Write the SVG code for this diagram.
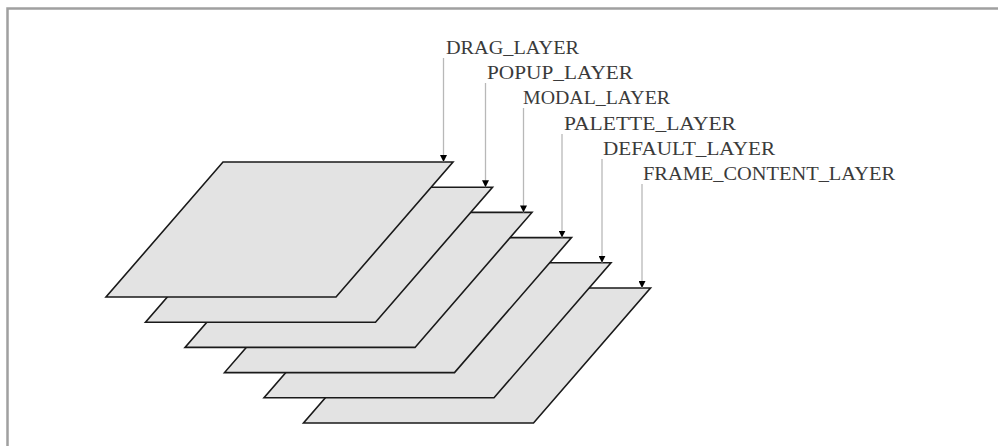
<svg xmlns="http://www.w3.org/2000/svg" width="998" height="446" viewBox="0 0 998 446">
<style>
.layer{fill:#e3e3e3;stroke:#1a1a1a;stroke-width:1.6;stroke-linejoin:miter}
.lbl{font-family:"Liberation Serif","Times New Roman",serif;font-size:18.5px;fill:#3a3a3a}
.lead{stroke:#b8b8b8;stroke-width:1.3;fill:none}
</style>
<defs>
<marker id="ah" viewBox="0 0 10 10" refX="10" refY="5" markerWidth="7" markerHeight="7" markerUnits="userSpaceOnUse" orient="auto">
<path d="M0,0 L10,5 L0,10 Z" fill="#000"/>
</marker>
</defs>
<rect x="0" y="0" width="998" height="446" fill="#fff"/>
<path d="M7.5,446 V8.5 H998" fill="none" stroke="#a0a0a0" stroke-width="2.5"/>
<g id="frame_content_layer"><polygon class="layer" points="420.5,288 650.5,288 533.5,423 303.5,423"/></g>
<g id="default_layer"><polygon class="layer" points="381,262.8 611,262.8 494,397.8 264,397.8"/></g>
<g id="palette_layer"><polygon class="layer" points="341.5,237.6 571.5,237.6 454.5,372.6 224.5,372.6"/></g>
<g id="modal_layer"><polygon class="layer" points="302,212.4 532,212.4 415,347.4 185,347.4"/></g>
<g id="popup_layer"><polygon class="layer" points="262.5,187.2 492.5,187.2 375.5,322.2 145.5,322.2"/></g>
<g id="drag_layer"><polygon class="layer" points="223,162 453,162 336,297 106,297"/></g>
<g id="labels">
<text class="lbl" x="446" y="54" textLength="133" lengthAdjust="spacingAndGlyphs">DRAG_LAYER</text>
<text class="lbl" x="487" y="79" textLength="146" lengthAdjust="spacingAndGlyphs">POPUP_LAYER</text>
<text class="lbl" x="523" y="104" textLength="147" lengthAdjust="spacingAndGlyphs">MODAL_LAYER</text>
<text class="lbl" x="564" y="130" textLength="172" lengthAdjust="spacingAndGlyphs">PALETTE_LAYER</text>
<text class="lbl" x="603" y="155" textLength="172" lengthAdjust="spacingAndGlyphs">DEFAULT_LAYER</text>
<text class="lbl" x="643" y="180" textLength="252" lengthAdjust="spacingAndGlyphs">FRAME_CONTENT_LAYER</text>
</g>
<g id="connectors">
<line class="lead" x1="443.5" y1="58" x2="443.5" y2="162" marker-end="url(#ah)"/>
<line class="lead" x1="485.5" y1="83" x2="485.5" y2="187.2" marker-end="url(#ah)"/>
<line class="lead" x1="523.5" y1="108" x2="523.5" y2="212.4" marker-end="url(#ah)"/>
<line class="lead" x1="562" y1="134" x2="562" y2="237.6" marker-end="url(#ah)"/>
<line class="lead" x1="602" y1="159" x2="602" y2="262.8" marker-end="url(#ah)"/>
<line class="lead" x1="642" y1="184" x2="642" y2="288" marker-end="url(#ah)"/>
</g>
</svg>
